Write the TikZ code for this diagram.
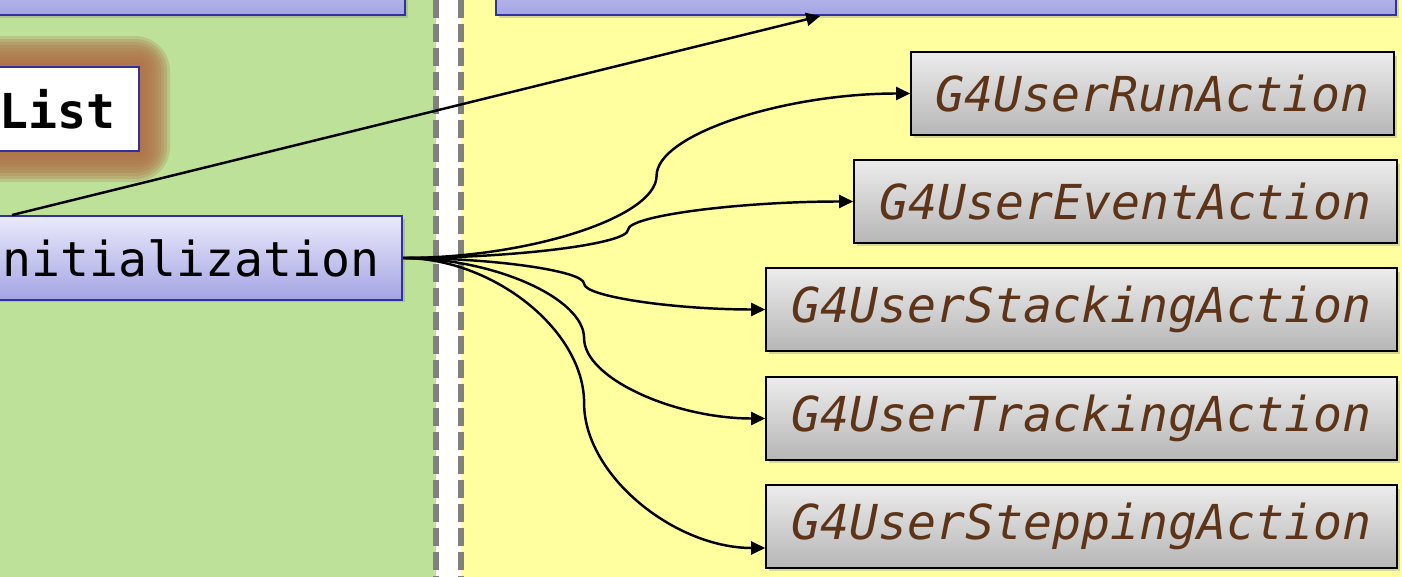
\documentclass[tikz,border=0pt]{standalone}
\usepackage{fontspec}
\newfontfamily\codefont{DejaVu Sans Mono}
\usetikzlibrary{arrows.meta,calc,shadows,backgrounds,positioning}

\definecolor{physgreen}{RGB}{189,225,152}
\definecolor{actyellow}{RGB}{255,255,160}
\definecolor{sepgray}{RGB}{128,128,128}
\definecolor{boxblue}{RGB}{48,48,160}
\definecolor{bluetop}{RGB}{234,234,251}
\definecolor{bluebot}{RGB}{164,164,228}
\definecolor{graytop}{RGB}{236,236,236}
\definecolor{graybot}{RGB}{182,182,182}
\definecolor{actbrown}{RGB}{94,52,24}
\definecolor{glowbrown}{RGB}{176,112,72}

\tikzset{
  codetext/.style={font=\codefont\fontsize{27.4}{30}\selectfont},
  bluebox/.style={codetext, draw=boxblue, line width=1.1pt, top color=bluetop, bottom color=bluebot,
    minimum height=1.68cm, inner xsep=0.6cm,
    drop shadow={opacity=0.3, shadow xshift=0.05cm, shadow yshift=-0.05cm}},
  listbox/.style={codetext, font=\codefont\bfseries\fontsize{27.4}{30}\selectfont, draw=boxblue,
    line width=1.1pt, fill=white, minimum height=1.68cm, inner xsep=0.48cm},
  actbox/.style={codetext, font=\codefont\itshape\fontsize{27.4}{30}\selectfont, text=actbrown,
    draw=black, line width=1.1pt, top color=graytop, bottom color=graybot,
    minimum height=1.66cm, anchor=east,
    drop shadow={opacity=0.3, shadow xshift=0.06cm, shadow yshift=-0.07cm}},
  sepline/.style={sepgray, line width=0.12cm, dash pattern=on 0.36cm off 0.12cm},
  conn/.style={line width=1.4pt, -{Triangle[length=0.28cm,width=0.26cm]}},
  ppcurve/.style={to path={let \p1=(\tikztostart), \p2=(\tikztotarget) in
    .. controls ({0.75*\x1+0.25*\x2},\y1) and ({0.5*\x1+0.5*\x2},{0.75*\y1+0.25*\y2})
    .. ({0.5*\x1+0.5*\x2},{0.5*\y1+0.5*\y2})
    .. controls ({0.5*\x1+0.5*\x2},{0.25*\y1+0.75*\y2}) and ({0.25*\x1+0.75*\x2},\y2)
    .. (\tikztotarget)}}
}

\begin{document}
\begin{tikzpicture}[x=0.02cm,y=-0.02cm]
  \useasboundingbox (0,0) rectangle (1402,577);
  \clip (0,0) rectangle (1402,577);
  % user side and kernel side
  \begin{scope}[on background layer]
    \fill[physgreen] (0,0) rectangle (436,577);
    \fill[white] (436,0) rectangle (461,577);
    \fill[actyellow] (461,0) rectangle (1402,577);
  \end{scope}
  \draw[sepline] (436,0) -- (436,577);
  \draw[sepline] (461,0) -- (461,577);

  % boxes cut at the top
  \node[bluebox, minimum width=9cm, anchor=south east] (physbox) at (406,16) {};
  \node[bluebox, minimum width=18cm, anchor=south east] (userbox) at (1397,16) {};

  % list box with glow
  \node[listbox, anchor=east] (list) at (140,109) {List};
  \begin{scope}[on background layer]
    \foreach \g in {1,...,10}
      \fill[glowbrown, opacity=0.24, rounded corners=\g*2pt]
        ($(list.south west)+(-3*\g,3*\g)$) rectangle ($(list.north east)+(3*\g,-3*\g)$);
  \end{scope}

  % initialization
  \node[bluebox, anchor=east, inner xsep=0.46cm] (init) at (403,258) {nitialization};

  % user actions
  \node[actbox, minimum width=9.66cm] (run) at (1395,93.5) {G4UserRunAction};
  \node[actbox, minimum width=10.86cm] (event) at (1398,201.5) {G4UserEventAction};
  \node[actbox, minimum width=12.62cm] (stack) at (1398,309.5) {G4UserStackingAction};
  \node[actbox, minimum width=12.62cm] (track) at (1398,418.5) {G4UserTrackingAction};
  \node[actbox, minimum width=12.62cm] (step) at (1398,526.5) {G4UserSteppingAction};
  \coordinate (stepin) at ([yshift=-0.43cm]step.west);

  % connectors
  \draw[conn] ($(init.north east)+(-391,0)$) -- ($(userbox.south west)+(325,0)$);
  \foreach \t in {run.west,event.west,stack.west,track.west,stepin}
    \draw[conn] (init.east) to[ppcurve] (\t);
\end{tikzpicture}
\end{document}
